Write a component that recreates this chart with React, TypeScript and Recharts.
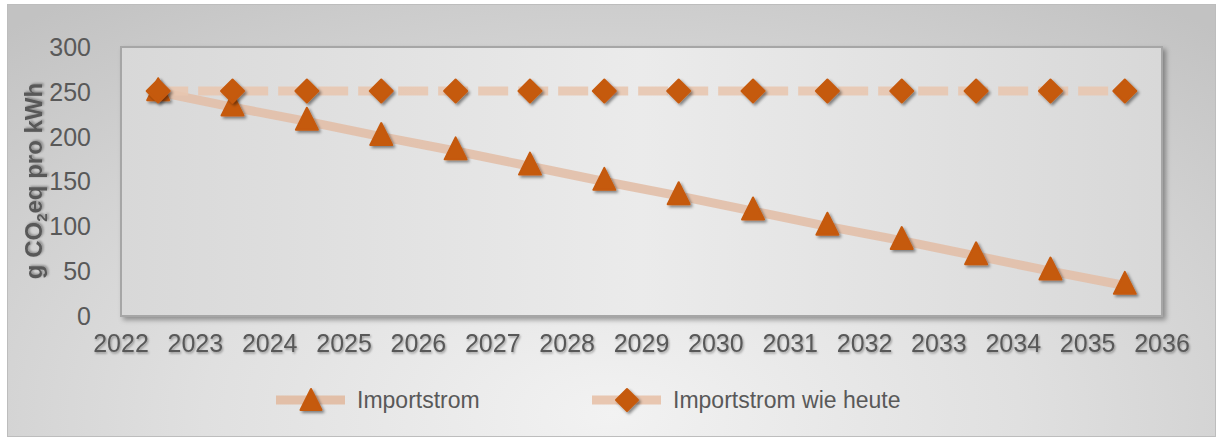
import React from "react";
import { CartesianGrid, Legend, Line, LineChart, ReferenceArea, XAxis, YAxis } from "recharts";

const years = [2022.5, 2023.5, 2024.5, 2025.5, 2026.5, 2027.5, 2028.5, 2029.5, 2030.5, 2031.5, 2032.5, 2033.5, 2034.5, 2035.5];
const importstrom = [250, 233, 217, 200, 184, 167, 150, 134, 117, 100, 84, 67, 50, 34];
const importstromHeute = [251, 251, 251, 251, 251, 251, 251, 251, 251, 251, 251, 251, 251, 251];
const xTicks = [2022, 2023, 2024, 2025, 2026, 2027, 2028, 2029, 2030, 2031, 2032, 2033, 2034, 2035, 2036];
const yTicks = [0, 50, 100, 150, 200, 250, 300];

const data = years.map((x, i) => ({ x, a: importstrom[i], b: importstromHeute[i] }));

const MARKER = "#c55a11";
const LINE_A = "#e2bfa8";
const LINE_B = "#e8c6b0";
const TEXT = "#595959";
const FONT = "'Liberation Sans', Arial, sans-serif";

function Triangle(props: any) {
  const { cx, cy, size = 22 } = props;
  if (cx == null || cy == null) return null;
  const h = size;
  const w = size;
  const d = `M ${cx} ${cy - h * 0.62} L ${cx + w / 2} ${cy + h * 0.38} L ${cx - w / 2} ${cy + h * 0.38} Z`;
  return <path d={d} fill={MARKER} stroke={MARKER} strokeWidth={2} strokeLinejoin="round" filter="url(#mkShadow)" />;
}

function Diamond(props: any) {
  const { cx, cy, size = 23 } = props;
  if (cx == null || cy == null) return null;
  const r = size / 2;
  const d = `M ${cx} ${cy - r} L ${cx + r} ${cy} L ${cx} ${cy + r} L ${cx - r} ${cy} Z`;
  return <path d={d} fill={MARKER} stroke={MARKER} strokeWidth={2} strokeLinejoin="round" filter="url(#mkShadow)" />;
}

function YLabel() {
  return (
    <text
      transform="translate(42,181) rotate(-90)"
      textAnchor="middle"
      fill={TEXT}
      fontFamily={FONT}
      fontSize={24}
      fontWeight="bold"
      filter="url(#txtShadow)"
    >
      g CO<tspan fontSize={15} dy={5}>2</tspan>
      <tspan dy={-5}>eq pro kWh</tspan>
    </text>
  );
}

function LegendContent() {
  const items = [
    { label: "Importstrom", color: LINE_A, shape: "tri" },
    { label: "Importstrom wie heute", color: LINE_B, shape: "dia" },
  ];
  return (
    <div style={{ display: "flex", paddingLeft: 276, height: 40, marginTop: 14, alignItems: "center" }}>
      {items.map((it, i) => (
        <div key={it.label} style={{ display: "flex", alignItems: "center", width: i === 0 ? 316 : "auto" }}>
          <svg width={70} height={26} style={{ overflow: "visible" }}>
            <line x1={0} x2={69} y1={13} y2={13} stroke={it.color} strokeWidth={9} />
            {it.shape === "tri" ? <Triangle cx={35} cy={15} size={21} /> : <Diamond cx={35} cy={13} size={22} />}
          </svg>
          <span style={{ marginLeft: 11, fontFamily: FONT, fontSize: 23, color: TEXT }}>{it.label}</span>
        </div>
      ))}
    </div>
  );
}

export default function App() {
  return (
    <div style={{ position: "absolute", left: 0, top: 0, width: 1220, height: 437, background: "#fff" }}>
      <div
        style={{
          position: "absolute",
          left: 7,
          top: 4,
          width: 1209,
          height: 433,
          boxSizing: "border-box",
          border: "1px solid #bdbdbd",
          background: "radial-gradient(ellipse 75% 120% at 50% 95%, #f2f2f2 0%, #e0e0e0 45%, #c2c2c2 100%)",
        }}
      />
      <div style={{ position: "absolute", left: 0, top: 0 }}>
        <LineChart width={1220} height={437} data={data} margin={{ top: 47, right: 58, bottom: 0, left: 0 }}>
          <defs>
            <linearGradient id="plotGrad" x1="0" y1="0" x2="1" y2="0">
              <stop offset="0%" stopColor="#d8d8d8" />
              <stop offset="50%" stopColor="#ebebeb" />
              <stop offset="100%" stopColor="#d8d8d8" />
            </linearGradient>
            <filter id="boxShadow" x="-5%" y="-5%" width="110%" height="115%">
              <feDropShadow dx={3} dy={3} stdDeviation={2.5} floodColor="#000" floodOpacity={0.35} />
            </filter>
            <filter id="mkShadow" x="-50%" y="-50%" width="200%" height="200%">
              <feDropShadow dx={2} dy={2} stdDeviation={1.5} floodColor="#000" floodOpacity={0.45} />
            </filter>
            <filter id="txtShadow" x="-20%" y="-20%" width="140%" height="160%">
              <feDropShadow dx={1} dy={1.5} stdDeviation={1} floodColor="#000" floodOpacity={0.35} />
            </filter>
          </defs>
          <ReferenceArea
            x1={2022}
            x2={2036}
            y1={0}
            y2={300}
            fill="url(#plotGrad)"
            fillOpacity={1}
            stroke="#a6a6a6"
            strokeWidth={2}
            filter="url(#boxShadow)"
            ifOverflow="visible"
          />
          <CartesianGrid vertical={false} stroke="#a6a6a6" strokeWidth={1.5} fill="none" />
          <XAxis
            type="number"
            dataKey="x"
            domain={[2022, 2036]}
            ticks={xTicks}
            axisLine={false}
            tickLine={false}
            height={50}
            tick={{ fill: TEXT, fontSize: 25, fontFamily: FONT, filter: "url(#txtShadow)" } as any}
            tickMargin={12}
          />
          <YAxis
            type="number"
            domain={[0, 300]}
            ticks={yTicks}
            axisLine={false}
            tickLine={false}
            width={121}
            tick={{ fill: TEXT, fontSize: 25, fontFamily: FONT }}
            tickMargin={24}
            label={{ content: () => <YLabel /> } as any}
          />
          <Legend verticalAlign="bottom" height={71} content={() => <LegendContent />} />
          <Line
            dataKey="a"
            name="Importstrom"
            stroke={LINE_A}
            strokeWidth={9}
            strokeOpacity={0.9}
            dot={(p: any) => <Triangle key={`t${p.index}`} cx={p.cx} cy={p.cy} />}
            activeDot={false}
            isAnimationActive={false}
          />
          <Line
            dataKey="b"
            name="Importstrom wie heute"
            stroke={LINE_B}
            strokeWidth={9}
            strokeOpacity={0.9}
            strokeDasharray="30 10"
            dot={(p: any) => <Diamond key={`d${p.index}`} cx={p.cx} cy={p.cy} />}
            activeDot={false}
            isAnimationActive={false}
          />
        </LineChart>
      </div>
    </div>
  );
}
